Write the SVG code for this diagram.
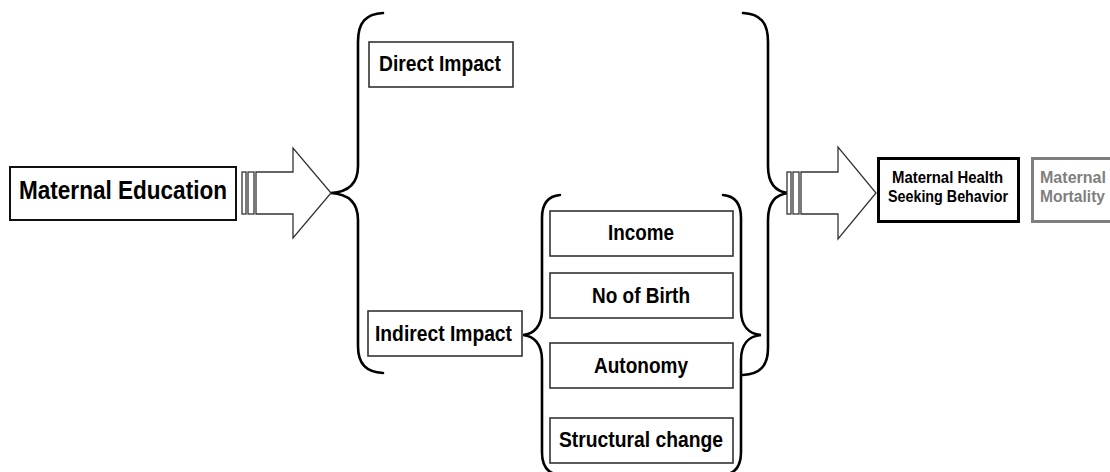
<svg xmlns="http://www.w3.org/2000/svg" width="1110" height="472" viewBox="0 0 1110 472">
<style>
.box{fill:#fff;stroke:#333;stroke-width:1.6}
.t{font-family:"Liberation Sans Narrow","Liberation Sans",Arial,sans-serif;font-weight:bold;fill:#000}
.brace{fill:none;stroke:#000;stroke-width:2.6;stroke-linecap:round}
.arrow{fill:#fff;stroke:#333;stroke-width:1.3}
</style>
<rect width="1110" height="472" fill="#fff"/>
<g id="connectors">
  <path class="brace" d="M383,13 C366,14 358,22 358,42 L358,166 C358,184 348,192 331,193 C348,194 358,202 358,220 L358,346 C358,364 366,372 383,373"/>
  <path class="brace" d="M743,13 C760,14 768,22 768,42 L768,166 C768,184 776,192 789,193 C776,194 768,202 768,220 L768,348 C768,366 760,374 743,375"/>
  <path class="brace" d="M560,195 C548,196 542,204 542,218 L542,310 C542,326 534,334 523,335 C534,336 542,344 542,360 L542,452 C542,466 548,474 560,475"/>
  <path class="brace" d="M723,195 C735,196 741,204 741,218 L741,310 C741,326 749,334 761,335 C749,336 741,344 741,360 L741,452 C741,466 735,474 723,475"/>
  <g id="arrow1">
    <rect class="arrow" x="242" y="172" width="4" height="42"/>
    <rect class="arrow" x="248" y="172" width="6" height="42"/>
    <polygon class="arrow" points="256,172 293,172 293,148 331,193 293,238 293,214 256,214"/>
  </g>
  <g id="arrow2">
    <rect class="arrow" x="787" y="172" width="4" height="42"/>
    <rect class="arrow" x="793" y="172" width="6" height="42"/>
    <polygon class="arrow" points="801,172 838,172 838,147 876,193 838,239 838,214 801,214"/>
  </g>
</g>
<g id="maternal-education">
  <rect class="box" x="10" y="167" width="226" height="53" style="stroke:#111;stroke-width:2"/>
  <text class="t" x="19" y="199" font-size="26" textLength="208" lengthAdjust="spacingAndGlyphs">Maternal Education</text>
</g>
<g id="direct-impact">
  <rect class="box" x="369" y="42" width="144" height="45"/>
  <text class="t" x="379" y="71" font-size="22" textLength="122" lengthAdjust="spacingAndGlyphs">Direct Impact</text>
</g>
<g id="indirect-impact">
  <rect class="box" x="368" y="311" width="154" height="45"/>
  <text class="t" x="375" y="341" font-size="22" textLength="137" lengthAdjust="spacingAndGlyphs">Indirect Impact</text>
</g>
<g id="income">
  <rect class="box" x="550" y="211" width="183" height="45"/>
  <text class="t" x="608" y="240" font-size="22" textLength="66" lengthAdjust="spacingAndGlyphs">Income</text>
</g>
<g id="no-of-birth">
  <rect class="box" x="550" y="273" width="183" height="45"/>
  <text class="t" x="592" y="303" font-size="22" textLength="98" lengthAdjust="spacingAndGlyphs">No of Birth</text>
</g>
<g id="autonomy">
  <rect class="box" x="550" y="343" width="183" height="45"/>
  <text class="t" x="594" y="373" font-size="22" textLength="94" lengthAdjust="spacingAndGlyphs">Autonomy</text>
</g>
<g id="structural-change">
  <rect class="box" x="550" y="418" width="183" height="45"/>
  <text class="t" x="559" y="447" font-size="22" textLength="164" lengthAdjust="spacingAndGlyphs">Structural change</text>
</g>
<g id="health-seeking">
  <rect x="878.5" y="158.5" width="140" height="63" fill="#fff" stroke="#000" stroke-width="3"/>
  <text class="t" x="892" y="183" font-size="16" textLength="111" lengthAdjust="spacingAndGlyphs">Maternal Health</text>
  <text class="t" x="888" y="202" font-size="16" textLength="120" lengthAdjust="spacingAndGlyphs">Seeking Behavior</text>
</g>
<g id="maternal-mortality">
  <rect x="1032.5" y="158.5" width="100" height="63" fill="#fff" stroke="#7f7f7f" stroke-width="3"/>
  <text class="t" x="1040" y="183" font-size="16" textLength="66" lengthAdjust="spacingAndGlyphs" style="fill:#7f7f7f">Maternal</text>
  <text class="t" x="1040" y="202" font-size="16" textLength="65" lengthAdjust="spacingAndGlyphs" style="fill:#7f7f7f">Mortality</text>
</g>
</svg>
